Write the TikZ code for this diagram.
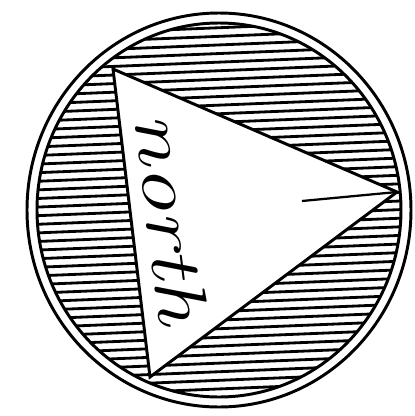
\documentclass[tikz,border=0pt]{standalone}
\usepackage{graphicx}
\usepackage{tikz}
\usetikzlibrary{calc}
\definecolor{inkblack}{RGB}{0,0,0}
\tikzset{
  ring/.style   ={draw=inkblack, line width=2.1pt},
  hatch/.style  ={draw=inkblack, line width=2pt},
  flag/.style   ={draw=inkblack, fill=white, line width=2.1pt, line join=miter},
  tick/.style   ={draw=inkblack, line width=1.6pt},
  word/.style   ={font=\fontsize{60}{60}\selectfont\itshape, inner sep=0pt, rotate=-83, anchor=base},
}
\begin{document}
\begin{tikzpicture}[x=0.025cm, y=0.025cm]
\useasboundingbox (0,-416) rectangle (415,0);
\coordinate (c) at (219,-210);
\coordinate (ta) at (113,-69);
\coordinate (tb) at (397,-192);
\coordinate (tc) at (150,-377);
\coordinate (tail) at (302,-201);

% the two rings
\draw[ring] (c) ellipse [x radius=192, y radius=197];
\draw[ring] (c) ellipse [x radius=182, y radius=187];

% hatching inside the inner ring
\begin{scope}
  \clip (c) ellipse [x radius=182, y radius=187];
  \foreach \k in {0,...,52}
    \draw[hatch] (20,{-2-8.6*\k-8}) -- (415,{-2-8.6*\k+8});
\end{scope}

% the white triangle and its pointer
\draw[flag] (ta) -- (tb) -- (tc) -- cycle;
\draw[tick] (tail) -- (tb);
\node[word] (label) at (147,-221) {\scalebox{1.1}[0.85]{north}};
\end{tikzpicture}
\end{document}
